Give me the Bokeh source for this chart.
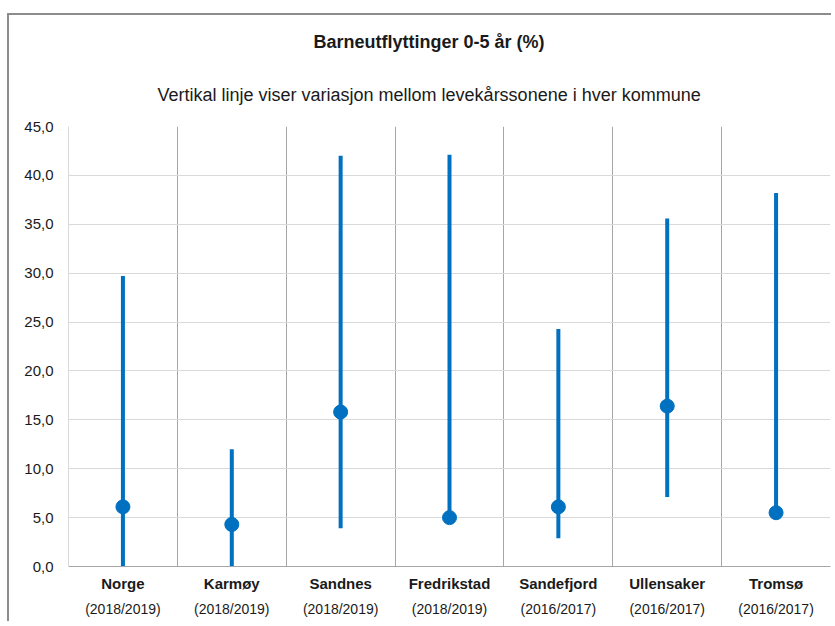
from bokeh.plotting import figure
from bokeh.models import FixedTicker, LinearAxis, Title, Range1d
from bokeh.embed import file_html
from bokeh.resources import INLINE

# ---- data ----
names = ["Norge", "Karmøy", "Sandnes", "Fredrikstad", "Sandefjord", "Ullensaker", "Tromsø"]
periods = ["(2018/2019)", "(2018/2019)", "(2018/2019)", "(2018/2019)",
           "(2016/2017)", "(2016/2017)", "(2016/2017)"]
low = [0.0, 0.0, 3.9, 5.0, 2.9, 7.1, 5.5]
high = [29.7, 12.0, 42.0, 42.1, 24.3, 35.6, 38.2]
value = [6.1, 4.3, 15.8, 5.0, 6.1, 16.4, 5.5]
y_ticks = [0, 5, 10, 15, 20, 25, 30, 35, 40, 45]

title_text = "Barneutflyttinger 0-5 år (%)"
subtitle_text = "Vertikal linje viser variasjon mellom levekårssonene i hver kommune"

FONT = "Liberation Sans"
BLUE = "#0070C0"
TXT = "#1a1a1a"

xs = [i + 0.5 for i in range(len(names))]

p = figure(width=824, height=608, output_backend="svg", toolbar_location=None,
           x_range=Range1d(0, len(names)), y_range=Range1d(0, 45),
           min_border_left=59, min_border_right=3, min_border_top=111, min_border_bottom=57,
           x_axis_location=None)
p.styles = {"margin-left": "7px", "margin-top": "13px",
            "border-left": "2px solid #8c8c8c", "border-top": "2px solid #8c8c8c"}
p.outline_line_color = None
p.background_fill_color = "white"
p.border_fill_color = "white"

# grids
p.ygrid.ticker = FixedTicker(ticks=y_ticks)
p.ygrid.grid_line_color = "#d9d9d9"
p.ygrid.grid_line_width = 1
p.xgrid.ticker = FixedTicker(ticks=list(range(1, len(names) + 1)))
p.xgrid.grid_line_color = "#a6a6a6"
p.xgrid.grid_line_width = 1

# y axis
ya = p.yaxis[0]
ya.ticker = FixedTicker(ticks=y_ticks)
ya.major_label_overrides = {v: f"{v:.1f}".replace(".", ",") for v in y_ticks}
ya.major_tick_line_color = None
ya.minor_tick_line_color = None
ya.axis_line_color = "#d9d9d9"
ya.major_label_text_font = FONT
ya.major_label_text_font_size = "15px"
ya.major_label_text_color = TXT
ya.major_label_standoff = 9

# x axes: names (bold) and periods
xa1 = LinearAxis(ticker=FixedTicker(ticks=xs),
                 major_label_overrides={x: n for x, n in zip(xs, names)})
xa1.major_tick_line_color = None
xa1.minor_tick_line_color = None
xa1.axis_line_color = "#a6a6a6"
xa1.major_label_text_font = FONT
xa1.major_label_text_font_style = "bold"
xa1.major_label_text_font_size = "15px"
xa1.major_label_text_color = TXT
xa1.major_label_standoff = 2
p.add_layout(xa1, "below")

xa2 = LinearAxis(ticker=FixedTicker(ticks=xs),
                 major_label_overrides={x: s for x, s in zip(xs, periods)})
xa2.major_tick_line_color = None
xa2.minor_tick_line_color = None
xa2.axis_line_color = None
xa2.major_label_text_font = FONT
xa2.major_label_text_font_size = "14px"
xa2.major_label_text_color = TXT
xa2.major_label_standoff = 0
p.add_layout(xa2, "below")

# marks
p.segment(x0=xs, y0=low, x1=xs, y1=high, line_color=BLUE, line_width=4)
p.scatter(x=xs, y=value, size=14, fill_color=BLUE, line_color=BLUE)

# titles (subtitle first = closest to frame)
p.add_layout(Title(text=subtitle_text, align="left", offset=89, standoff=44,
                   text_font=FONT, text_font_style="normal", text_font_size="18px",
                   text_color=TXT), "above")
p.add_layout(Title(text=title_text, align="left", offset=245, standoff=18,
                   text_font=FONT, text_font_style="bold", text_font_size="18px",
                   text_color=TXT), "above")

open("out.html", "w").write(file_html(p, INLINE))
